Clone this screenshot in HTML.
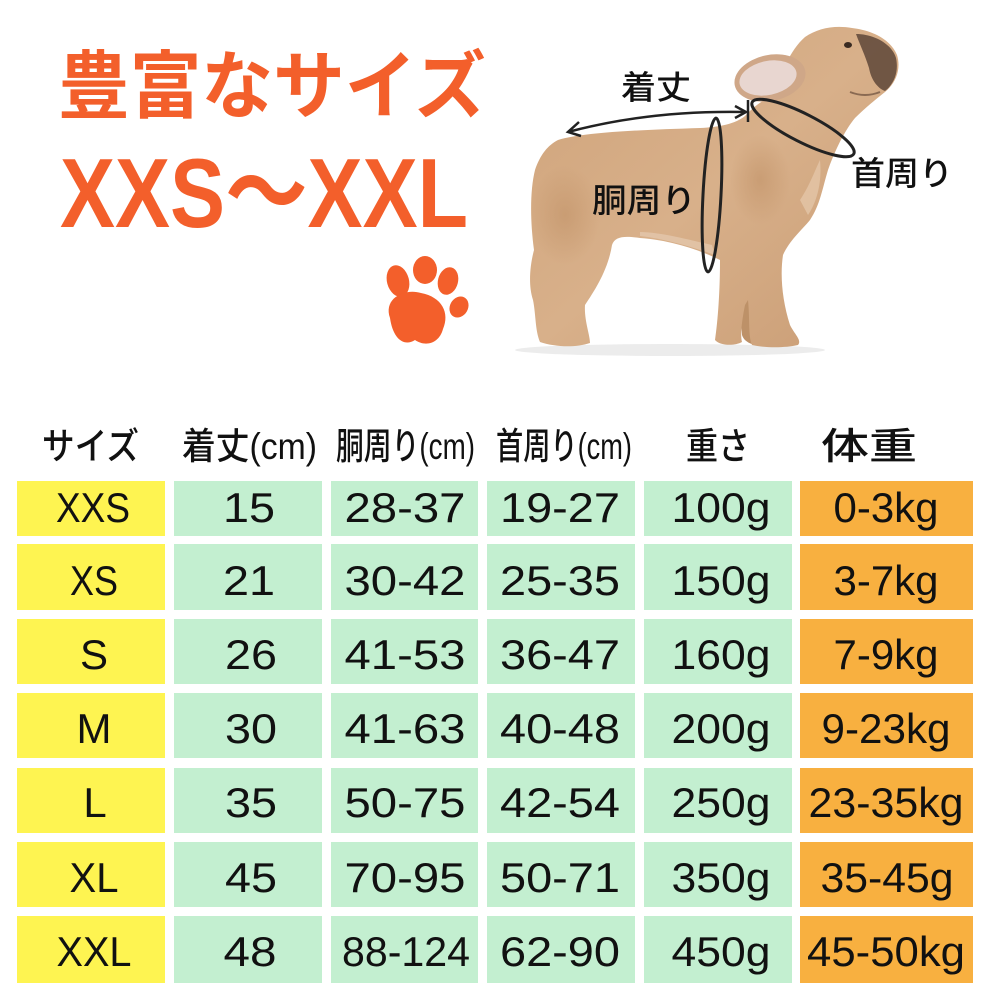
<!DOCTYPE html>
<html><head><meta charset="utf-8"><style>
html,body{margin:0;padding:0;background:#fff;width:1000px;height:1000px;overflow:hidden}
svg{display:block}
.jp{font-family:"Liberation Sans","Noto Sans CJK JP",sans-serif}
.c{font-family:"Liberation Sans","Noto Sans CJK JP",sans-serif;font-size:42px;fill:#111;text-anchor:middle}
</style></head><body>
<svg width="1000" height="1000" viewBox="0 0 1000 1000" xmlns="http://www.w3.org/2000/svg">
<defs>
<linearGradient id="dg" x1="0" y1="0" x2="1" y2="1">
<stop offset="0" stop-color="#cfa37a"/><stop offset="0.5" stop-color="#d8b08a"/><stop offset="1" stop-color="#c99c74"/>
</linearGradient>
<radialGradient id="th" cx="0.5" cy="0.5" r="0.5">
<stop offset="0" stop-color="#c4966c" stop-opacity="0.7"/><stop offset="1" stop-color="#c4966c" stop-opacity="0"/>
</radialGradient>
</defs>
<rect width="1000" height="1000" fill="#fff"/>

<!-- Title -->
<text x="58" y="112" font-family="'Noto Sans CJK JP',sans-serif" font-size="74" font-weight="700" fill="#F35F2B" textLength="428" lengthAdjust="spacingAndGlyphs">豊富なサイズ</text>
<text x="60" y="227" class="jp" font-size="98" font-weight="700" fill="#F35F2B" textLength="408" lengthAdjust="spacingAndGlyphs">XXS〜XXL</text>

<!-- Paw -->
<g fill="#F35F2B">
<ellipse cx="398" cy="281" rx="11" ry="16" transform="rotate(-15 398 281)"/>
<ellipse cx="425" cy="270" rx="12" ry="14"/>
<ellipse cx="448" cy="281" rx="10" ry="14" transform="rotate(15 448 281)"/>
<ellipse cx="459" cy="307" rx="9" ry="11" transform="rotate(30 459 307)"/>
<path d="M390,318 C383,298 405,288 421,293 C442,297 450,313 443,329 C439,344 425,347 415,340 C404,347 393,339 390,318 Z"/>
</g>

<!-- Dog -->
<ellipse cx="670" cy="350" rx="155" ry="6" fill="#ececec"/>
<!-- back front leg -->
<path d="M735,250 C738,280 740,310 742,335 C745,345 760,347 770,345 C765,330 762,300 760,260 Z" fill="#bd9168"/>
<path d="M558,140 C585,132 640,130 700,128 C720,127 735,124 745,116 C752,108 762,100 773,96 C780,75 790,50 805,37 C818,28 835,25 852,28 C870,30 890,38 897,55 C901,68 897,82 885,92 C875,100 865,108 855,118 C845,130 835,150 828,170 C822,190 820,205 810,220 C800,232 790,240 783,255 C780,275 782,300 790,325 C795,335 802,340 798,345 C785,348 765,348 752,345 C748,335 750,320 748,300 L745,305 C742,320 740,335 742,342 C735,346 720,346 715,340 C718,320 720,290 720,260 C700,250 670,240 640,238 C625,236 615,236 612,245 C608,270 595,290 585,305 C584,320 590,335 590,343 C575,348 555,347 540,342 C535,330 536,315 533,300 C528,285 530,265 534,250 C530,220 530,190 535,170 C540,155 548,145 558,140 Z" fill="url(#dg)"/>
<ellipse cx="565" cy="215" rx="35" ry="50" fill="url(#th)"/>
<ellipse cx="760" cy="180" rx="30" ry="45" fill="url(#th)"/>
<path d="M640,236 C660,238 690,246 715,255 L712,245 C690,240 660,232 640,232 Z" fill="#e6cbb0" opacity="0.7"/>
<path d="M800,200 C810,185 815,170 820,160 C822,180 818,200 808,215 Z" fill="#e4c6a8" opacity="0.8"/>
<ellipse cx="770" cy="78" rx="36" ry="23" transform="rotate(-12 770 78)" fill="#cfa788"/>
<ellipse cx="768" cy="78" rx="29" ry="17" transform="rotate(-12 768 78)" fill="#e8d6d0"/>
<path d="M856,34 C874,34 892,44 896,58 C899,72 894,84 885,91 C877,88 871,79 869,68 C865,55 860,45 856,34 Z" fill="#5e4738" opacity="0.85"/>
<path d="M850,92 C860,96 870,96 880,92" stroke="#8a6a52" stroke-width="2" fill="none"/>
<ellipse cx="848" cy="45" rx="4" ry="3" fill="#3a2b22"/>

<!-- Annotations -->
<g stroke="#222" fill="none" stroke-width="2.5">
<path d="M568,132 Q650,110 746,112"/>
<polyline points="579,122 568,132 581,136"/>
<polyline points="735,106 746,112 735,118"/>
<line x1="748" y1="100" x2="748" y2="122"/>
<ellipse cx="712" cy="195" rx="9" ry="77" transform="rotate(3 712 195)" stroke-width="3"/>
<ellipse cx="803" cy="128" rx="57" ry="14" transform="rotate(27 803 128)" stroke-width="3"/>
</g>
<g font-family="'Noto Sans CJK JP',sans-serif" font-size="33" font-weight="500" fill="#111">
<text x="621" y="99" textLength="70" lengthAdjust="spacingAndGlyphs">着丈</text>
<text x="592" y="212" textLength="104" lengthAdjust="spacingAndGlyphs">胴周り</text>
<text x="851" y="185" textLength="102" lengthAdjust="spacingAndGlyphs">首周り</text>
</g>

<!-- Header -->
<g class="jp" font-size="37" font-weight="500" fill="#111">
<text x="42" y="459" textLength="97" lengthAdjust="spacingAndGlyphs">サイズ</text>
<text x="182" y="459" textLength="135" lengthAdjust="spacingAndGlyphs">着丈(cm)</text>
<text x="336" y="459" textLength="139" lengthAdjust="spacingAndGlyphs">胴周り(cm)</text>
<text x="496" y="459" textLength="136" lengthAdjust="spacingAndGlyphs">首周り(cm)</text>
<text x="686" y="459" textLength="64" lengthAdjust="spacingAndGlyphs">重さ</text>
<text x="821" y="459" textLength="96" lengthAdjust="spacingAndGlyphs">体重</text>
</g>

<!-- Cells -->
<g>
<g fill="#FEF451">
<rect x="17" y="481" width="148" height="55"/>
<rect x="17" y="544" width="148" height="66"/>
<rect x="17" y="619" width="148" height="65"/>
<rect x="17" y="693" width="148" height="65"/>
<rect x="17" y="768" width="148" height="65"/>
<rect x="17" y="842" width="148" height="65"/>
<rect x="17" y="916" width="148" height="67"/>
</g>
<g fill="#C3EFD0">
<rect x="174" y="481" width="148" height="55"/><rect x="331" y="481" width="147" height="55"/><rect x="487" y="481" width="148" height="55"/><rect x="644" y="481" width="148" height="55"/>
<rect x="174" y="544" width="148" height="66"/><rect x="331" y="544" width="147" height="66"/><rect x="487" y="544" width="148" height="66"/><rect x="644" y="544" width="148" height="66"/>
<rect x="174" y="619" width="148" height="65"/><rect x="331" y="619" width="147" height="65"/><rect x="487" y="619" width="148" height="65"/><rect x="644" y="619" width="148" height="65"/>
<rect x="174" y="693" width="148" height="65"/><rect x="331" y="693" width="147" height="65"/><rect x="487" y="693" width="148" height="65"/><rect x="644" y="693" width="148" height="65"/>
<rect x="174" y="768" width="148" height="65"/><rect x="331" y="768" width="147" height="65"/><rect x="487" y="768" width="148" height="65"/><rect x="644" y="768" width="148" height="65"/>
<rect x="174" y="842" width="148" height="65"/><rect x="331" y="842" width="147" height="65"/><rect x="487" y="842" width="148" height="65"/><rect x="644" y="842" width="148" height="65"/>
<rect x="174" y="916" width="148" height="67"/><rect x="331" y="916" width="147" height="67"/><rect x="487" y="916" width="148" height="67"/><rect x="644" y="916" width="148" height="67"/>
</g>
<g fill="#F8B040">
<rect x="800" y="481" width="173" height="55"/>
<rect x="800" y="544" width="173" height="66"/>
<rect x="800" y="619" width="173" height="65"/>
<rect x="800" y="693" width="173" height="65"/>
<rect x="800" y="768" width="173" height="65"/>
<rect x="800" y="842" width="173" height="65"/>
<rect x="800" y="916" width="173" height="67"/>
</g>
</g>

<g class="c">
<text class="c" x="93" y="522" textLength="74" lengthAdjust="spacingAndGlyphs">XXS</text>
<text class="c" x="249" y="522" textLength="52" lengthAdjust="spacingAndGlyphs">15</text>
<text class="c" x="405" y="522" textLength="121" lengthAdjust="spacingAndGlyphs">28-37</text>
<text class="c" x="560" y="522" textLength="120" lengthAdjust="spacingAndGlyphs">19-27</text>
<text class="c" x="721" y="522" textLength="99" lengthAdjust="spacingAndGlyphs">100g</text>
<text class="c" x="886" y="522" textLength="105" lengthAdjust="spacingAndGlyphs">0-3kg</text>

<text class="c" x="94" y="595" textLength="48" lengthAdjust="spacingAndGlyphs">XS</text>
<text class="c" x="249" y="595" textLength="52" lengthAdjust="spacingAndGlyphs">21</text>
<text class="c" x="405" y="595" textLength="121" lengthAdjust="spacingAndGlyphs">30-42</text>
<text class="c" x="560" y="595" textLength="120" lengthAdjust="spacingAndGlyphs">25-35</text>
<text class="c" x="721" y="595" textLength="99" lengthAdjust="spacingAndGlyphs">150g</text>
<text class="c" x="886" y="595" textLength="105" lengthAdjust="spacingAndGlyphs">3-7kg</text>

<text class="c" x="94" y="669">S</text>
<text class="c" x="251" y="669" textLength="52" lengthAdjust="spacingAndGlyphs">26</text>
<text class="c" x="405" y="669" textLength="121" lengthAdjust="spacingAndGlyphs">41-53</text>
<text class="c" x="560" y="669" textLength="120" lengthAdjust="spacingAndGlyphs">36-47</text>
<text class="c" x="721" y="669" textLength="99" lengthAdjust="spacingAndGlyphs">160g</text>
<text class="c" x="886" y="669" textLength="105" lengthAdjust="spacingAndGlyphs">7-9kg</text>

<text class="c" x="94" y="743">M</text>
<text class="c" x="251" y="743" textLength="52" lengthAdjust="spacingAndGlyphs">30</text>
<text class="c" x="405" y="743" textLength="121" lengthAdjust="spacingAndGlyphs">41-63</text>
<text class="c" x="560" y="743" textLength="120" lengthAdjust="spacingAndGlyphs">40-48</text>
<text class="c" x="721" y="743" textLength="99" lengthAdjust="spacingAndGlyphs">200g</text>
<text class="c" x="886" y="743" textLength="129" lengthAdjust="spacingAndGlyphs">9-23kg</text>

<text class="c" x="95" y="817">L</text>
<text class="c" x="251" y="817" textLength="52" lengthAdjust="spacingAndGlyphs">35</text>
<text class="c" x="405" y="817" textLength="121" lengthAdjust="spacingAndGlyphs">50-75</text>
<text class="c" x="560" y="817" textLength="120" lengthAdjust="spacingAndGlyphs">42-54</text>
<text class="c" x="721" y="817" textLength="99" lengthAdjust="spacingAndGlyphs">250g</text>
<text class="c" x="886" y="817" textLength="155" lengthAdjust="spacingAndGlyphs">23-35kg</text>

<text class="c" x="94" y="892" textLength="49" lengthAdjust="spacingAndGlyphs">XL</text>
<text class="c" x="251" y="892" textLength="52" lengthAdjust="spacingAndGlyphs">45</text>
<text class="c" x="405" y="892" textLength="121" lengthAdjust="spacingAndGlyphs">70-95</text>
<text class="c" x="560" y="892" textLength="120" lengthAdjust="spacingAndGlyphs">50-71</text>
<text class="c" x="721" y="892" textLength="99" lengthAdjust="spacingAndGlyphs">350g</text>
<text class="c" x="887" y="892" textLength="133" lengthAdjust="spacingAndGlyphs">35-45g</text>

<text class="c" x="94" y="966" textLength="75" lengthAdjust="spacingAndGlyphs">XXL</text>
<text class="c" x="250" y="966" textLength="53" lengthAdjust="spacingAndGlyphs">48</text>
<text class="c" x="406" y="966" textLength="128" lengthAdjust="spacingAndGlyphs">88-124</text>
<text class="c" x="560" y="966" textLength="120" lengthAdjust="spacingAndGlyphs">62-90</text>
<text class="c" x="721" y="966" textLength="99" lengthAdjust="spacingAndGlyphs">450g</text>
<text class="c" x="886" y="966" textLength="158" lengthAdjust="spacingAndGlyphs">45-50kg</text>
</g>
</svg>
</body></html>
